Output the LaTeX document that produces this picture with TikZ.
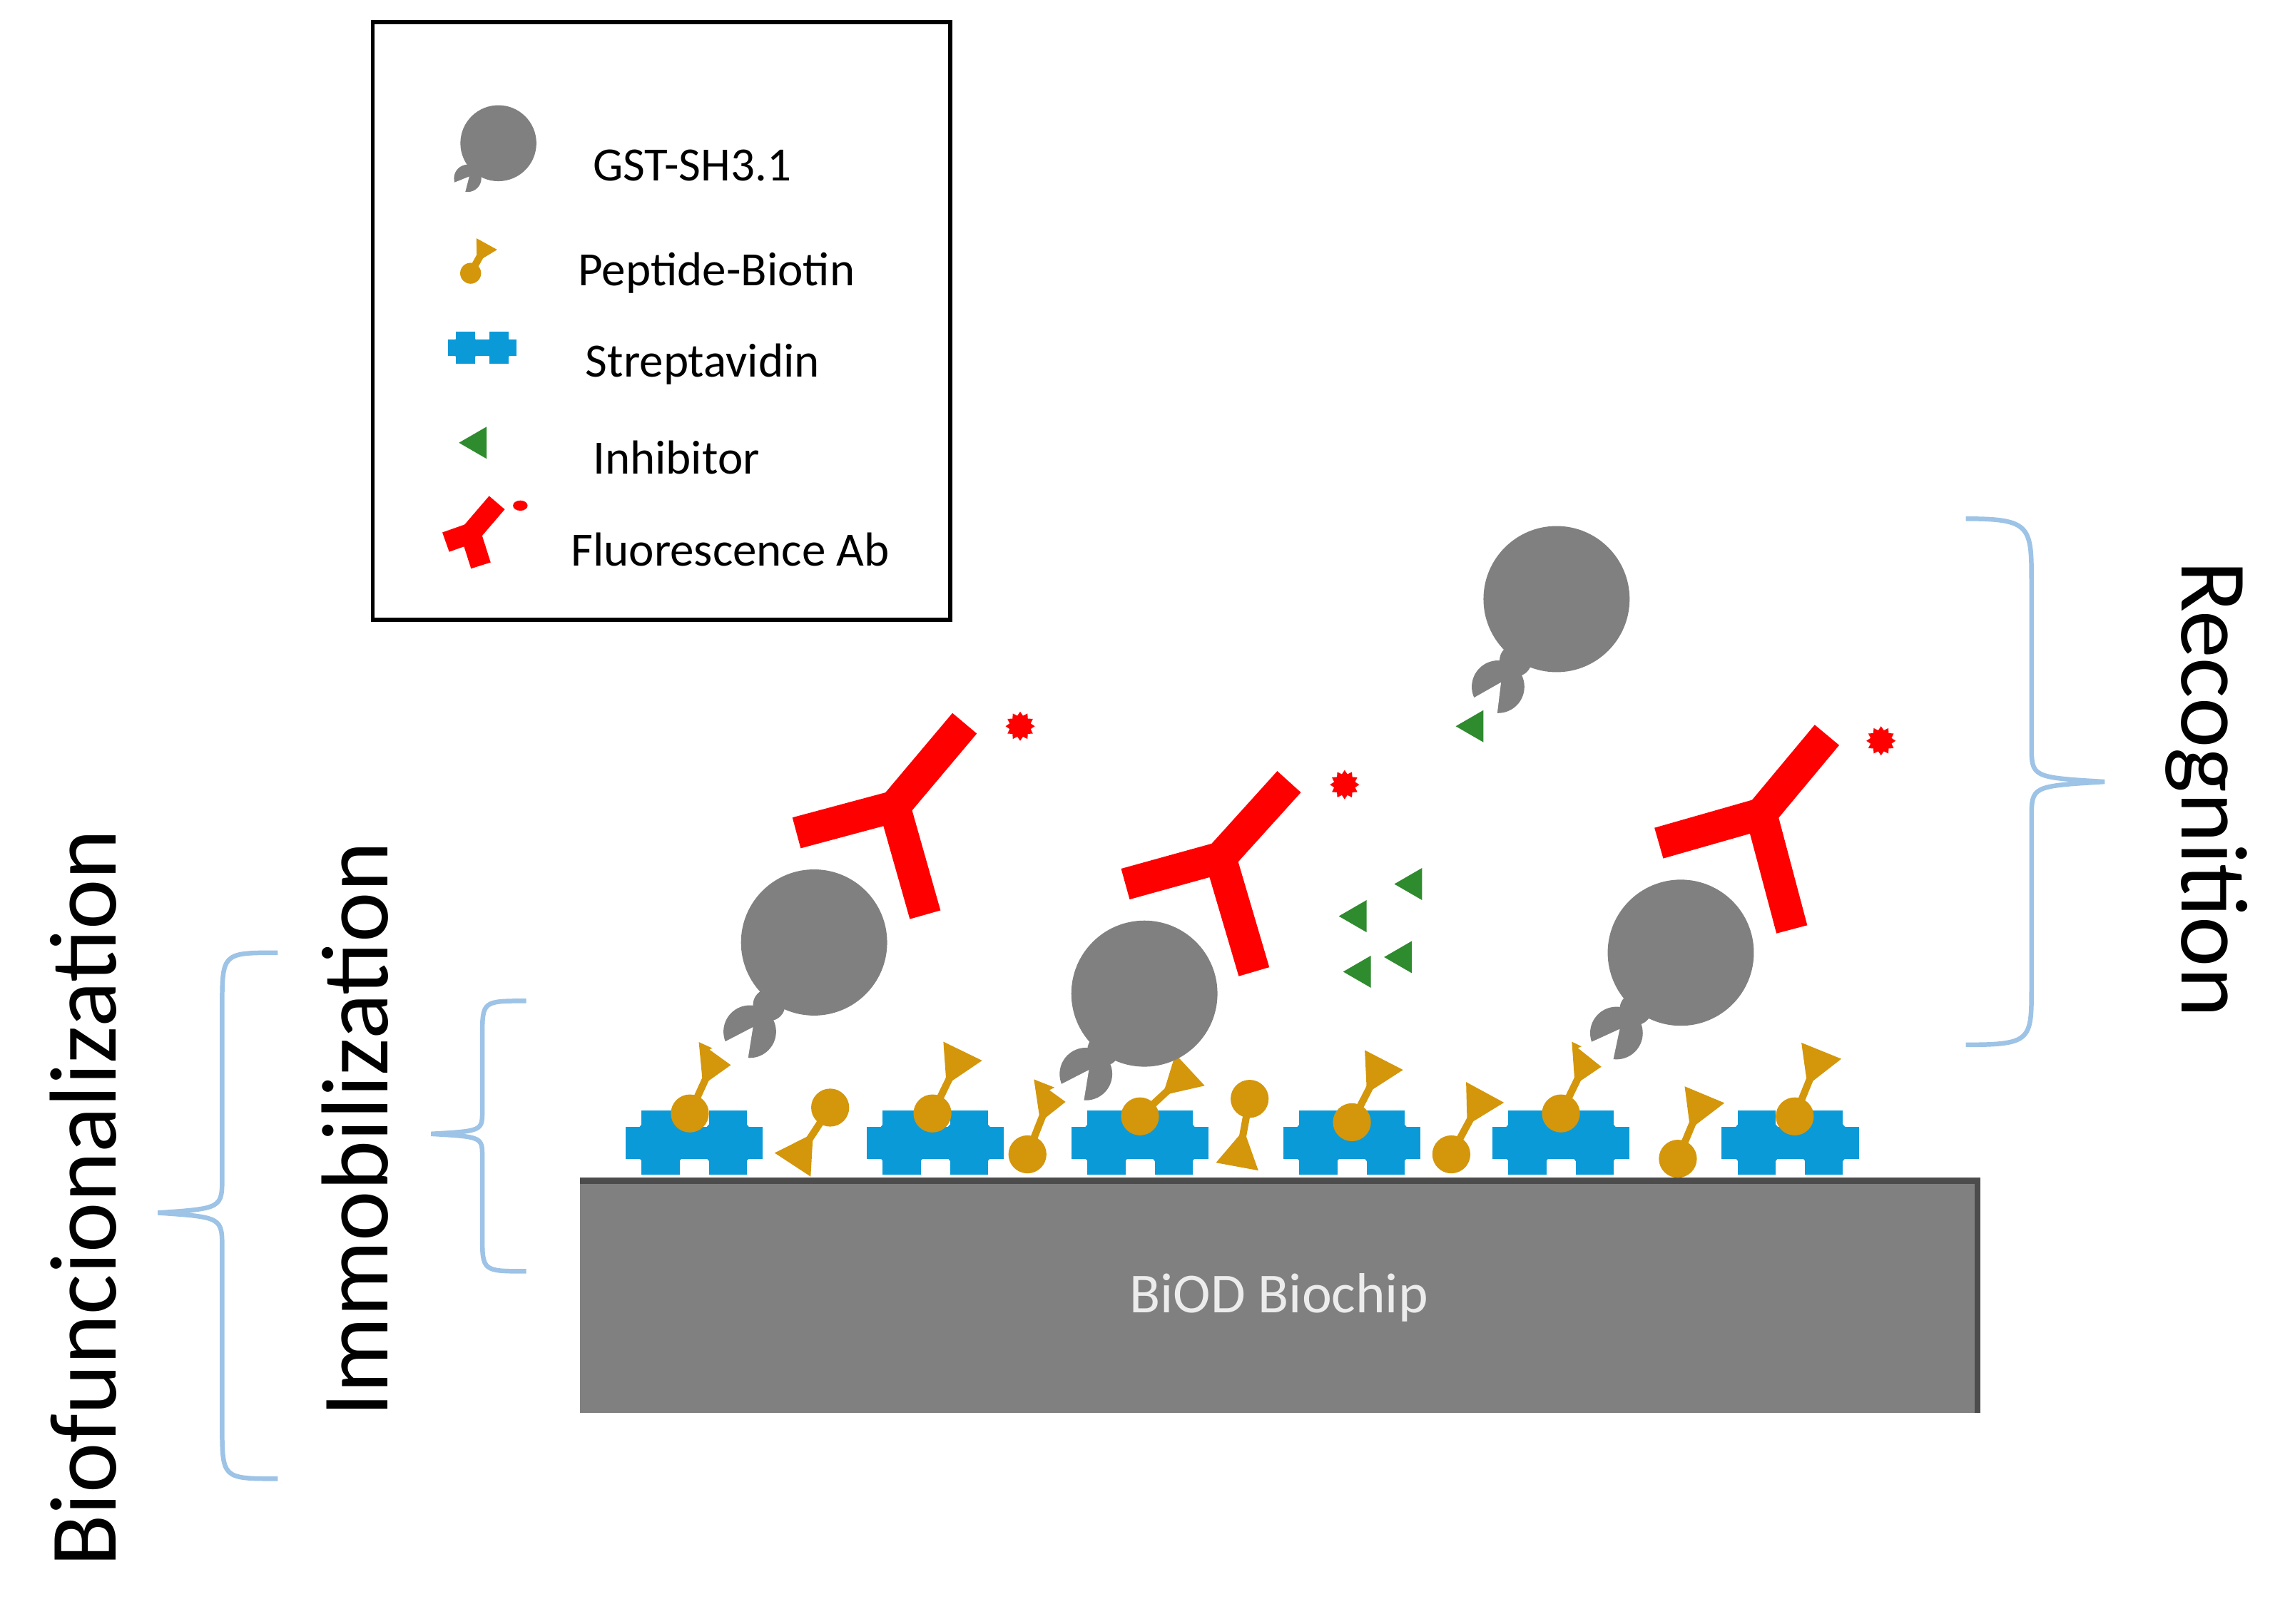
\documentclass[tikz,border=0pt]{standalone}
\usepackage{fontspec}
\setmainfont{Carlito}
\usetikzlibrary{calc,shapes.geometric}
\definecolor{gsc}{HTML}{808080}
\definecolor{orc}{HTML}{D4960A}
\definecolor{blc}{HTML}{0B9AD8}
\definecolor{grc}{HTML}{2E8B2E}
\definecolor{brc}{HTML}{9DC3E6}
\newcommand{\gstm}[5]{% cx cy r wx wy
  \fill[gsc] (#1,#2) circle (#3);
  \fill[gsc] ($(#1,#2)!0.7!(#4,#5)$) circle (0.22*#3);
  \fill[gsc] (#4,#5) circle (0.36*#3);
  \fill[white] ($(#4,#5)!0.05!(#1,#2)$) -- ($(#4,#5)!0.4!150:(#1,#2)$) -- ($(#4,#5)!0.4!210:(#1,#2)$) -- cycle;}
\newcommand{\pb}[4]{% circle c, triangle t
  \draw[orc,line width=1.4pt] (#1,#2) -- (#3,#4);
  \fill[orc] (#1,#2) circle (13);
  \fill[orc] ($(#3,#4)!0.17cm!(#1,#2)$) -- ($(#3,#4)!0.17cm!120:(#1,#2)$) -- ($(#3,#4)!0.17cm!-120:(#1,#2)$) -- cycle;}
\newcommand{\strep}[3]{%
  \begin{scope}[shift={(#1,#2)},scale=#3]
  \foreach \d in {-23,23}{
    \fill[blc] (\d-24,-11) rectangle (\d+24,11);
    \fill[blc] (\d-13,-22) rectangle (\d+13,22);
    \fill[blc] (\d,0) circle (18);}
  \end{scope}}
\newcommand{\antib}[9]{% junction, left, up, stem, width
  \draw[red,line width=#9] (#3,#4) -- (#1,#2) -- (#7,#8);
  \draw[red,line width=#9] (#1,#2) -- (#5,#6);}
\newcommand{\inhib}[2]{\fill[grc] (#1-11,#2) -- (#1+8,#2-11) -- (#1+8,#2+11) -- cycle;}
\newcommand{\sdot}[3]{\node[star,star points=12,star point ratio=1.35,fill=red,inner sep=0pt,minimum size=#3] at (#1,#2) {};}
\begin{document}
\begin{tikzpicture}[x=0.01cm,y=-0.01cm,brace/.style={brc,line width=0.9pt},lg/.style={anchor=west,inner sep=0pt,font=\fontsize{9.3}{11}\selectfont}]
\useasboundingbox (0,0) rectangle (1560,1111);
% legend
\draw[line width=0.8pt] (255,15) rectangle (650,424);
\gstm{341}{98}{26}{320}{122}
\begin{scope}[shift={(322,187)},scale=0.55,shift={(-322,-187)}]\pb{322}{187}{338}{158}\end{scope}
\strep{330}{238}{0.5}
\inhib{325}{303}
\antib{322}{365}{305}{371}{340}{344}{329}{387}{4pt}
\fill[red] (356,346) ellipse (5 and 3.5);
\node[lg] (l1) at (405,113) {GST-SH3.1};
\node[lg] (l2) at (395,187) {Peptide-Biotin};
\node[lg] (l3) at (400,249) {Streptavidin};
\node[lg] (l4) at (405,313) {Inhibitor};
\node[lg] (l5) at (390,376) {Fluorescence Ab};
% chip
\fill[gsc] (397,806) rectangle (1353,967);
\draw[gray!60!black,line width=1.2pt] (397,808) -- (1353,808) -- (1353,967);
\node[text=gray!15,font=\fontsize{11}{13}\selectfont] (chip) at (875,888) {BiOD Biochip};
% streptavidin
\foreach \x in {475,640,780,925,1068,1225} {\strep{\x}{782}{1}}
% biotins
\pb{472}{762}{488}{727}
\pb{638}{762}{655}{727}
\pb{780}{764}{808}{738}
\pb{925}{768}{943}{733}
\pb{1068}{762}{1085}{727}
\pb{1228}{764}{1243}{727}
\pb{568}{758}{547}{790}
\pb{703}{790}{718}{752}
\pb{855}{752}{848}{790}
\pb{993}{790}{1012}{755}
\pb{1148}{793}{1163}{757}
% GST
\gstm{557}{645}{50}{513}{706}
\gstm{783}{680}{50}{743}{735}
\gstm{1150}{652}{50}{1106}{707}
\gstm{1065}{410}{50}{1025}{470}
% antibodies
\antib{612}{552}{545}{570}{660}{495}{633}{626}{6.2pt}
\antib{835}{587}{770}{605}{882}{535}{858}{665}{6.2pt}
\antib{1205}{557}{1135}{577}{1250}{503}{1226}{636}{6.2pt}
\sdot{698}{497}{0.2cm}
\sdot{920}{537}{0.2cm}
\sdot{1287}{507}{0.2cm}
% inhibitors
\inhib{1007}{497}
\inhib{965}{605}
\inhib{927}{627}
\inhib{958}{655}
\inhib{930}{665}
% braces
\draw[brace] (1345,355) .. controls (1390,355) and (1390,360) .. (1390,400) -- (1390,510) .. controls (1390,532) .. (1440,535) .. controls (1390,538) .. (1390,560) -- (1390,675) .. controls (1390,712) and (1390,715) .. (1345,715);
\draw[brace] (360,685) .. controls (330,685) .. (330,710) -- (330,760) .. controls (330,774) .. (295,776) .. controls (330,778) .. (330,792) -- (330,845) .. controls (330,870) .. (360,870);
\draw[brace] (190,652) .. controls (152,652) .. (152,690) -- (152,805) .. controls (152,827) .. (108,830) .. controls (152,833) .. (152,855) -- (152,975) .. controls (152,1012) .. (190,1012);
% labels
\node[rotate=-90,font=\fontsize{18.5}{20}\selectfont] (rec) at (1510,540) {Recognition};
\node[rotate=90,font=\fontsize{18.5}{20}\selectfont] (imm) at (243,773) {Immobilization};
\node[rotate=90,font=\fontsize{18.5}{20}\selectfont] (bio) at (57,820) {Biofuncionalization};
\end{tikzpicture}
\end{document}
